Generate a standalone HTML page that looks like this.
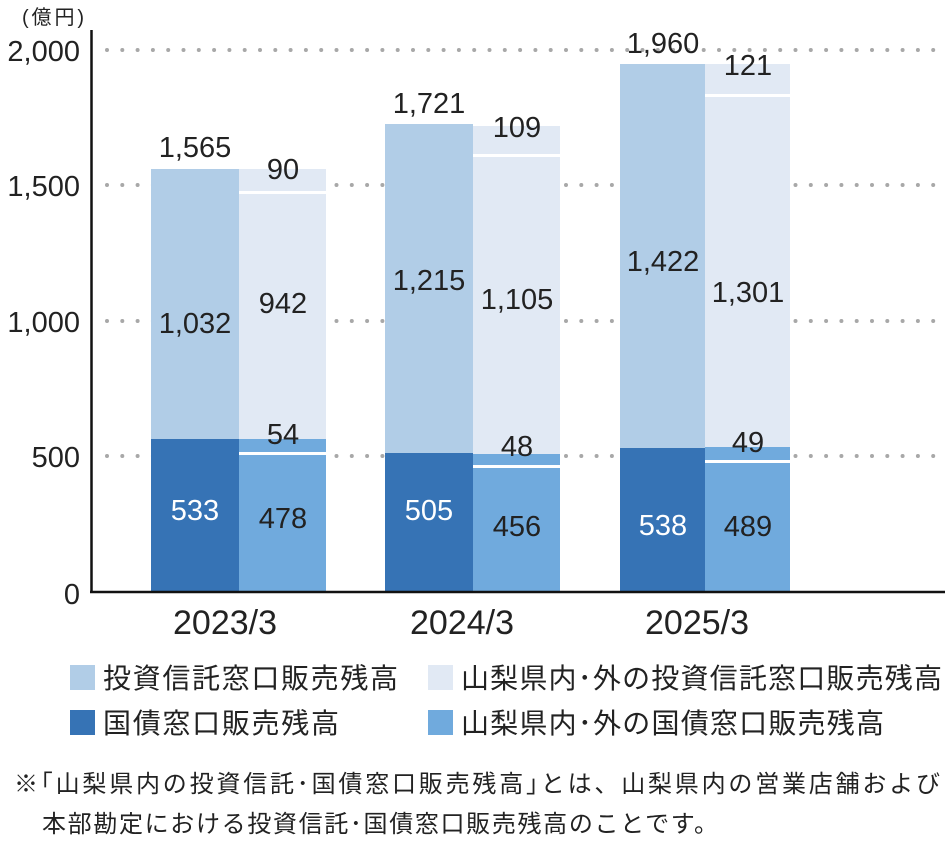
<!DOCTYPE html>
<html><head><meta charset="utf-8"><style>
body{margin:0;background:#fff;}
svg text{font-family:"Liberation Sans","Noto Sans CJK JP",sans-serif;}
</style></head><body>
<svg width="951" height="846" viewBox="0 0 951 846" xmlns="http://www.w3.org/2000/svg">
<g stroke="#a8a8a8" stroke-width="4" stroke-linecap="round" stroke-dasharray="0 15.3">
<line x1="107" y1="50" x2="940" y2="50"/>
<line x1="107" y1="185" x2="940" y2="185"/>
<line x1="107" y1="321" x2="940" y2="321"/>
<line x1="107" y1="456" x2="940" y2="456"/>
</g>
<rect x="151" y="169" width="88" height="423" fill="#b1cde7"/>
<rect x="151" y="439" width="88" height="153" fill="#3673b5"/>
<rect x="239" y="169" width="87" height="423" fill="#e1e9f4"/>
<rect x="239" y="439" width="87" height="153" fill="#70aadd"/>
<rect x="239" y="191" width="87" height="3" fill="#fff"/>
<rect x="239" y="452" width="87" height="3" fill="#fff"/>
<rect x="385" y="124" width="88" height="468" fill="#b1cde7"/>
<rect x="385" y="453" width="88" height="139" fill="#3673b5"/>
<rect x="473" y="126" width="87" height="466" fill="#e1e9f4"/>
<rect x="473" y="454" width="87" height="138" fill="#70aadd"/>
<rect x="473" y="154" width="87" height="3" fill="#fff"/>
<rect x="473" y="465" width="87" height="3" fill="#fff"/>
<rect x="620" y="64" width="85" height="528" fill="#b1cde7"/>
<rect x="620" y="448" width="85" height="144" fill="#3673b5"/>
<rect x="705" y="64" width="85" height="528" fill="#e1e9f4"/>
<rect x="705" y="447" width="85" height="145" fill="#70aadd"/>
<rect x="705" y="94" width="85" height="3" fill="#fff"/>
<rect x="705" y="460" width="85" height="3" fill="#fff"/>
<line x1="91.5" y1="30" x2="91.5" y2="593" stroke="#111" stroke-width="2.5"/>
<line x1="90" y1="592" x2="945" y2="592" stroke="#111" stroke-width="2.5"/>
<g font-size="29" fill="#222" text-anchor="end">
<text x="80" y="61">2,000</text><text x="80" y="196">1,500</text><text x="80" y="332">1,000</text><text x="80" y="467">500</text><text x="80" y="604">0</text>
</g>
<text x="22" y="24" font-size="20" fill="#222" textLength="62">(億円)</text>
<g font-size="29" fill="#222" text-anchor="middle">
<text x="195" y="157">1,565</text><text x="283" y="179">90</text>
<text x="195" y="333">1,032</text><text x="283" y="313">942</text>
<text x="283" y="444">54</text><text x="283" y="528">478</text>
<text x="429" y="113">1,721</text><text x="517" y="137">109</text>
<text x="429" y="290">1,215</text><text x="517" y="309">1,105</text>
<text x="517" y="456">48</text><text x="517" y="536">456</text>
<text x="663" y="53">1,960</text><text x="748" y="75">121</text>
<text x="663" y="271">1,422</text><text x="748" y="302">1,301</text>
<text x="748" y="452">49</text><text x="748" y="536">489</text>
<text x="195" y="520" fill="#fff">533</text><text x="429" y="520" fill="#fff">505</text><text x="663" y="535" fill="#fff">538</text>
</g>
<g font-size="34" fill="#222" text-anchor="middle">
<text x="225" y="634">2023/3</text><text x="462" y="634">2024/3</text><text x="697" y="634">2025/3</text>
</g>
<rect x="70" y="665" width="25" height="25" fill="#b1cde7"/>
<rect x="70" y="710" width="25" height="25" fill="#3673b5"/>
<rect x="428" y="665" width="25" height="25" fill="#e1e9f4"/>
<rect x="428" y="710" width="25" height="25" fill="#70aadd"/>
<g font-size="28" fill="#222">
<text x="103" y="688" textLength="295">投資信託窓口販売残高</text>
<text x="103" y="733" textLength="236">国債窓口販売残高</text>
<text x="461" y="688" textLength="481">山梨県内･外の投資信託窓口販売残高</text>
<text x="461" y="733" textLength="423">山梨県内･外の国債窓口販売残高</text>
</g>
<g font-size="24" fill="#222">
<text x="14" y="792" textLength="926">※｢山梨県内の投資信託･国債窓口販売残高｣とは、山梨県内の営業店舗および</text>
<text x="42" y="832" textLength="676">本部勘定における投資信託･国債窓口販売残高のことです。</text>
</g>
</svg>
</body></html>
